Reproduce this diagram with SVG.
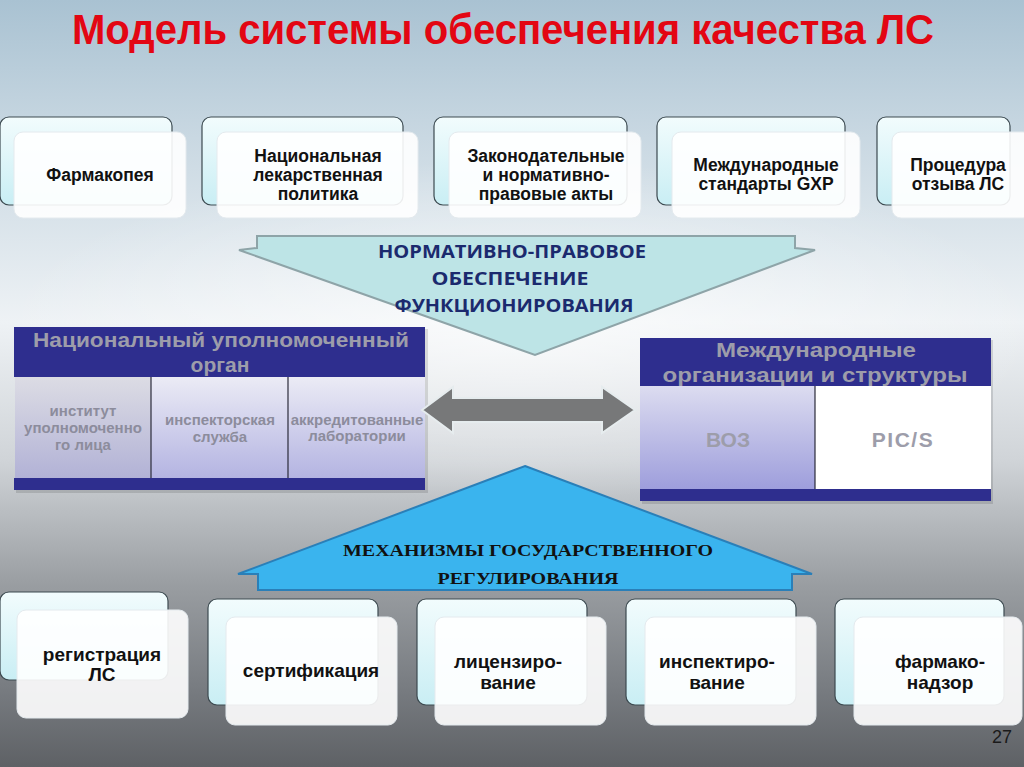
<svg xmlns="http://www.w3.org/2000/svg" width="1024" height="767" viewBox="0 0 1024 767">
<defs>
<linearGradient id="bg" x1="0" y1="0" x2="0" y2="1">
<stop offset="0" stop-color="#a9c2d2"/>
<stop offset="0.18" stop-color="#c9d8e2"/>
<stop offset="0.42" stop-color="#eef2f5"/>
<stop offset="0.6" stop-color="#d0d4d8"/>
<stop offset="0.76" stop-color="#9a9ea2"/>
<stop offset="0.9" stop-color="#777b80"/>
<stop offset="1" stop-color="#5e6165"/>
</linearGradient>
<radialGradient id="glow" cx="0.5" cy="0.5" r="0.5">
<stop offset="0" stop-color="#ffffff" stop-opacity="0.7"/>
<stop offset="1" stop-color="#ffffff" stop-opacity="0"/>
</radialGradient>
<linearGradient id="back" x1="0" y1="0" x2="0" y2="1">
<stop offset="0" stop-color="#f2fcfd"/>
<stop offset="1" stop-color="#c9eef4"/>
</linearGradient>
<linearGradient id="cell" x1="0" y1="0" x2="0" y2="1">
<stop offset="0" stop-color="#ebebf5"/>
<stop offset="1" stop-color="#b4b4e2"/>
</linearGradient>
<linearGradient id="cellg" x1="0" y1="0" x2="0" y2="1">
<stop offset="0" stop-color="#dcdce4"/>
<stop offset="1" stop-color="#b2b2d6"/>
</linearGradient>
<linearGradient id="cellw" x1="0" y1="0" x2="0" y2="1">
<stop offset="0" stop-color="#dcdcf0"/>
<stop offset="1" stop-color="#9e9edc"/>
</linearGradient>
<style>
.bk{fill:url(#back);stroke:#3c4a50;stroke-width:1.2}
.fr{fill:#ffffff;fill-opacity:0.9;stroke:#e4eaee;stroke-width:1}
.bt{font-family:"Liberation Sans",Arial,sans-serif;font-weight:bold;font-size:17.5px;fill:#111;text-anchor:middle}
.bb{font-family:"Liberation Sans",Arial,sans-serif;font-weight:bold;font-size:19px;fill:#111;text-anchor:middle}
.hd{fill:#2e2e8e}
.ht{font-family:"Liberation Sans",Arial,sans-serif;font-weight:bold;font-size:21px;fill:#9d9daa;text-anchor:middle}
.ct{font-family:"Liberation Sans",Arial,sans-serif;font-weight:bold;font-size:15px;fill:#8c8c9c;text-anchor:middle}
.cl{stroke:#2a2a3a;stroke-width:1.2}
</style>
</defs>
<rect x="0" y="0" width="1024" height="767" fill="url(#bg)"/>
<ellipse cx="520" cy="330" rx="520" ry="170" fill="url(#glow)"/>
<g id="title">
<text x="503" y="44" text-anchor="middle" font-family="'Liberation Sans Narrow','Liberation Sans',Arial,sans-serif" font-weight="bold" font-size="42" fill="#e30613" textLength="862" lengthAdjust="spacingAndGlyphs">Модель системы обеспечения качества ЛС</text>
</g>
<g id="top-1">
<rect class="bk" x="0" y="117" width="172" height="88" rx="9"/>
<rect class="fr" x="14" y="132" width="172" height="86" rx="9"/>
<text class="bt" x="100" y="181">Фармакопея</text>
</g>
<g id="top-2">
<rect class="bk" x="202" y="117" width="201" height="88" rx="9"/>
<rect class="fr" x="217" y="132" width="201" height="86" rx="9"/>
<text class="bt" x="318" y="162">Национальная</text>
<text class="bt" x="318" y="181">лекарственная</text>
<text class="bt" x="318" y="200">политика</text>
</g>
<g id="top-3">
<rect class="bk" x="434" y="117" width="193" height="88" rx="9"/>
<rect class="fr" x="449" y="132" width="192" height="86" rx="9"/>
<text class="bt" x="546" y="162">Законодательные</text>
<text class="bt" x="546" y="181">и нормативно-</text>
<text class="bt" x="546" y="200">правовые акты</text>
</g>
<g id="top-4">
<rect class="bk" x="657" y="117" width="188" height="88" rx="9"/>
<rect class="fr" x="672" y="132" width="188" height="86" rx="9"/>
<text class="bt" x="766" y="171">Международные</text>
<text class="bt" x="766" y="190">стандарты  GXP</text>
</g>
<g id="top-5">
<rect class="bk" x="877" y="117" width="133" height="88" rx="9"/>
<rect class="fr" x="892" y="132" width="140" height="86" rx="9"/>
<text class="bt" x="958" y="171">Процедура</text>
<text class="bt" x="958" y="190">отзыва ЛС</text>
</g>
<g id="normative">
<polygon points="257,236 795,236 795,248 815,250 535,355 239,250 257,248" fill="#bde4e6" stroke="#8ea4a8" stroke-width="2"/>
<g font-family="'Open Sans','Liberation Sans',Arial,sans-serif" font-weight="bold" font-size="17" fill="#1b2a6e" text-anchor="middle">
<text x="512" y="258" textLength="268" lengthAdjust="spacingAndGlyphs">НОРМАТИВНО-ПРАВОВОЕ</text>
<text x="510" y="285" textLength="157" lengthAdjust="spacingAndGlyphs">ОБЕСПЕЧЕНИЕ</text>
<text x="514" y="312" textLength="239" lengthAdjust="spacingAndGlyphs">ФУНКЦИОНИРОВАНИЯ</text>
</g>
</g>
<g id="national">
<rect x="16" y="329" width="412" height="164" fill="#000" opacity="0.12"/>
<rect class="hd" x="14" y="327" width="411" height="50"/>
<text class="ht" x="221" y="347" textLength="376" lengthAdjust="spacingAndGlyphs">Национальный уполномоченный</text>
<text class="ht" x="220" y="372">орган</text>
<rect x="15" y="377" width="136" height="101" fill="url(#cellg)"/>
<rect x="151" y="377" width="137" height="101" fill="url(#cell)"/>
<rect x="288" y="377" width="137" height="101" fill="url(#cell)"/>
<line class="cl" x1="151" y1="377" x2="151" y2="478"/>
<line class="cl" x1="288" y1="377" x2="288" y2="478"/>
<rect class="hd" x="14" y="478" width="411" height="12"/>
<text class="ct" x="83" y="416">институт</text>
<text class="ct" x="83" y="433">уполномоченно</text>
<text class="ct" x="83" y="450">го лица</text>
<text class="ct" x="220" y="425">инспекторская</text>
<text class="ct" x="220" y="442">служба</text>
<text class="ct" x="357" y="425" font-size="13.5">аккредитованные</text>
<text class="ct" x="357" y="441" font-size="13.5">лаборатории</text>
</g>
<g id="international">
<rect x="642" y="340" width="351" height="164" fill="#000" opacity="0.12"/>
<rect class="hd" x="640" y="338" width="351" height="48"/>
<text class="ht" x="816" y="357" textLength="200" lengthAdjust="spacingAndGlyphs">Международные</text>
<text class="ht" x="815" y="382" textLength="305" lengthAdjust="spacingAndGlyphs">организации и структуры</text>
<rect x="640" y="386" width="175" height="103" fill="url(#cellw)"/>
<rect x="815" y="386" width="176" height="103" fill="#ffffff"/>
<line class="cl" x1="815" y1="386" x2="815" y2="489"/>
<rect class="hd" x="640" y="489" width="351" height="12"/>
<text class="ht" x="728" y="447" font-size="24" fill="#9a9aa2">ВОЗ</text>
<text class="ht" x="903" y="447" font-size="24" fill="#9a9aa2" letter-spacing="1.5">PIC/S</text>
</g>
<g id="connectors">
<polygon points="422,410 453,387 453,398 602,398 602,387 635,410 602,433 602,422 453,422 453,433" fill="#777879" stroke="#e6ecee" stroke-width="2"/>
</g>
<g id="regulation">
<polygon points="525,466 812,574 792,574 792,590 258,590 258,574 238,574" fill="#3ab4ee" stroke="#2a7fb8" stroke-width="2"/>
<g font-family="'Liberation Serif','Times New Roman',serif" font-weight="bold" font-size="17" fill="#111" text-anchor="middle">
<text x="528" y="556" textLength="370" lengthAdjust="spacingAndGlyphs">МЕХАНИЗМЫ ГОСУДАРСТВЕННОГО</text>
<text x="528" y="584" textLength="181" lengthAdjust="spacingAndGlyphs">РЕГУЛИРОВАНИЯ</text>
</g>
</g>
<g id="bot-1">
<rect class="bk" x="0" y="592" width="168" height="88" rx="9"/>
<rect class="fr" x="17" y="610" width="171" height="108" rx="9"/>
<text class="bb" x="102" y="661">регистрация</text>
<text class="bb" x="102" y="681">ЛС</text>
</g>
<g id="bot-2">
<rect class="bk" x="208" y="599" width="170" height="106" rx="9"/>
<rect class="fr" x="226" y="617" width="171" height="108" rx="9"/>
<text class="bb" x="311" y="677">сертификация</text>
</g>
<g id="bot-3">
<rect class="bk" x="417" y="599" width="170" height="106" rx="9"/>
<rect class="fr" x="435" y="617" width="171" height="108" rx="9"/>
<text class="bb" x="508" y="668">лицензиро-</text>
<text class="bb" x="508" y="689">вание</text>
</g>
<g id="bot-4">
<rect class="bk" x="626" y="599" width="170" height="106" rx="9"/>
<rect class="fr" x="645" y="617" width="171" height="108" rx="9"/>
<text class="bb" x="717" y="668">инспектиро-</text>
<text class="bb" x="717" y="689">вание</text>
</g>
<g id="bot-5">
<rect class="bk" x="835" y="599" width="169" height="106" rx="9"/>
<rect class="fr" x="854" y="617" width="168" height="108" rx="9"/>
<text class="bb" x="940" y="668">фармако-</text>
<text class="bb" x="940" y="689">надзор</text>
</g>
<text x="1012" y="743" text-anchor="end" font-family="'Liberation Sans',Arial,sans-serif" font-size="18" fill="#1a1a1a">27</text>
</svg>
